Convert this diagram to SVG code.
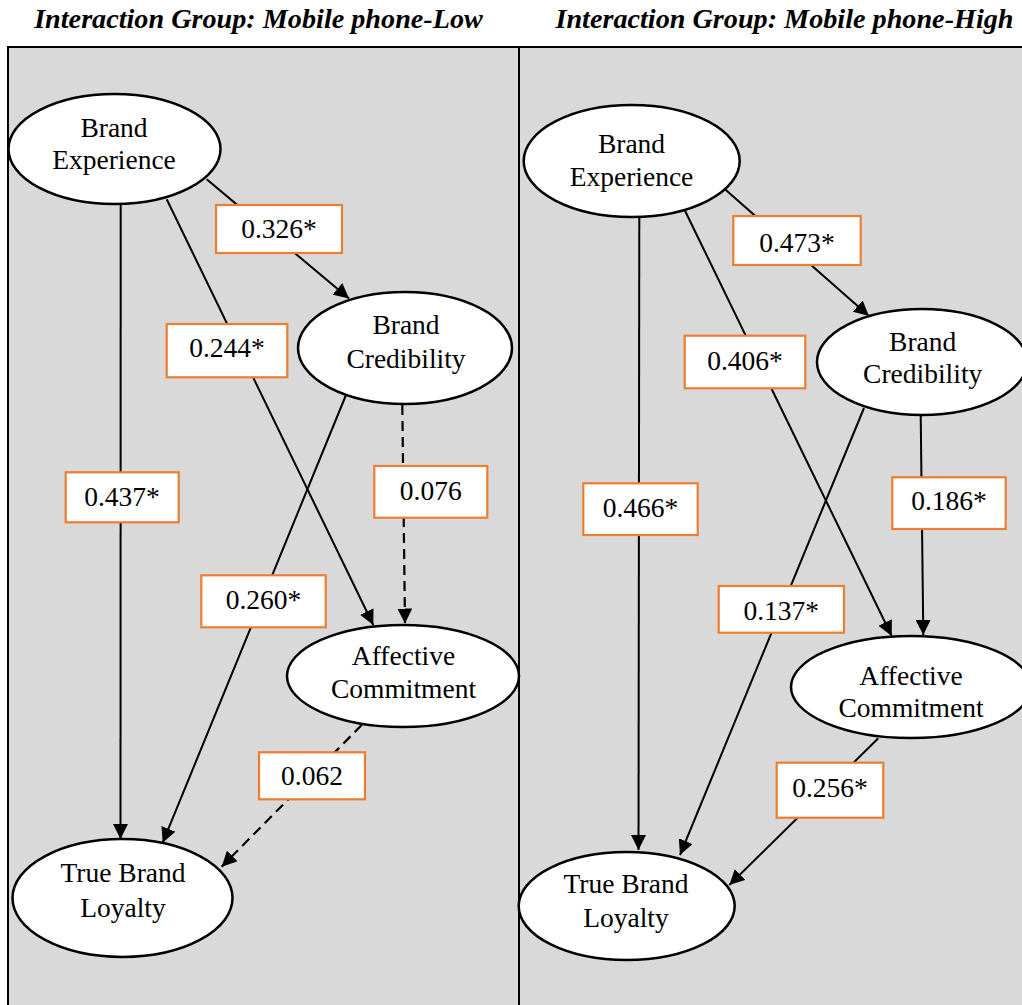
<svg xmlns="http://www.w3.org/2000/svg" width="1022" height="1005" viewBox="0 0 1022 1005">
  <style>
    .title { font-family: "Liberation Serif", "Times New Roman", serif; font-size: 28.2px; font-weight: bold; font-style: italic; fill: #000; text-anchor: middle; }
    .node ellipse { fill: #fff; stroke: #000; stroke-width: 2.5; }
    .node text { font-family: "Liberation Serif", "Times New Roman", serif; font-size: 27.5px; fill: #000; text-anchor: middle; }
    .edge { fill: none; stroke: #000; stroke-width: 2; marker-end: url(#arrow); }
    .dashed { stroke-width: 2.2; stroke-dasharray: 10 6; }
    .label rect { fill: #fff; stroke: #ED7D31; stroke-width: 2.2; }
    .label text { font-family: "Liberation Serif", "Times New Roman", serif; font-size: 27.5px; fill: #000; text-anchor: middle; }
  </style>
  <defs>
    <marker id="arrow" markerUnits="userSpaceOnUse" markerWidth="16" markerHeight="15" refX="15" refY="7.5" orient="auto">
      <path d="M0,0 L15,7.5 L0,15 z" fill="#000"/>
    </marker>
  </defs>

  <rect width="1022" height="1005" fill="#fff"/>

  <!-- group titles -->
  <text class="title" x="258.5" y="28">Interaction Group: Mobile phone-Low</text>
  <text class="title" x="784.5" y="28">Interaction Group: Mobile phone-High</text>

  <!-- panels -->
  <g id="panels">
    <rect x="8" y="47" width="1030" height="980" fill="#d9d9d9" stroke="#000" stroke-width="2"/>
    <line x1="519" y1="47" x2="519" y2="1010" stroke="#000" stroke-width="2"/>
  </g>

  <!-- connectors -->
  <g id="connectors">
    <!-- Low group -->
    <path class="edge" d="M206.7,179.3 L349,298.5"/>
    <path class="edge" d="M166.7,199.3 L373.3,625"/>
    <path class="edge" d="M120.7,204 L120.5,839"/>
    <path class="edge" d="M346,395 L162.7,842.7"/>
    <path class="edge dashed" d="M402.3,405 L405,623.5"/>
    <path class="edge dashed" d="M361.7,725 L221.7,866.7"/>
    <!-- High group -->
    <path class="edge" d="M725,189.3 L869,316"/>
    <path class="edge" d="M685,210.7 L891.7,636"/>
    <path class="edge" d="M639.3,216.7 L638.5,850"/>
    <path class="edge" d="M864,408 L680,855"/>
    <path class="edge" d="M920.7,415 L923.3,635"/>
    <path class="edge" d="M878.3,738.3 L729.3,885"/>

    <!-- path coefficients -->
    <g class="label"><rect x="216" y="205" width="126" height="48"/><text x="279" y="238">0.326*</text></g>
    <g class="label"><rect x="166.7" y="324" width="120.6" height="53.3"/><text x="227" y="357.3">0.244*</text></g>
    <g class="label"><rect x="65.7" y="472.3" width="113" height="50"/><text x="122" y="506">0.437*</text></g>
    <g class="label"><rect x="201.3" y="575.3" width="124.4" height="52"/><text x="263.5" y="609.3">0.260*</text></g>
    <g class="label"><rect x="374.3" y="466" width="113" height="51.7"/><text x="430.8" y="500">0.076</text></g>
    <g class="label"><rect x="259" y="752.3" width="106" height="47"/><text x="312" y="785">0.062</text></g>

    <g class="label"><rect x="733.3" y="216" width="127.4" height="49"/><text x="797" y="251.7">0.473*</text></g>
    <g class="label"><rect x="684.7" y="335.7" width="120.6" height="52.6"/><text x="745" y="370">0.406*</text></g>
    <g class="label"><rect x="583.3" y="483.3" width="114.4" height="51.7"/><text x="640.5" y="517.3">0.466*</text></g>
    <g class="label"><rect x="718.7" y="586" width="125.3" height="46.7"/><text x="781.3" y="620">0.137*</text></g>
    <g class="label"><rect x="892.3" y="477.3" width="113.4" height="51.7"/><text x="949" y="510">0.186*</text></g>
    <g class="label"><rect x="776.7" y="762.7" width="106.6" height="55"/><text x="830" y="796.7">0.256*</text></g>
  </g>

  <!-- Low group nodes -->
  <g id="low-brand-experience" class="node">
    <ellipse cx="114.5" cy="149" rx="106" ry="55"/>
    <text x="114" y="137">Brand</text>
    <text x="114" y="169">Experience</text>
  </g>
  <g id="low-brand-credibility" class="node">
    <ellipse cx="405" cy="348" rx="107" ry="56"/>
    <text x="406" y="334">Brand</text>
    <text x="406" y="368">Credibility</text>
  </g>
  <g id="low-affective-commitment" class="node">
    <ellipse cx="403" cy="676" rx="116" ry="51"/>
    <text x="403.5" y="665">Affective</text>
    <text x="403.5" y="698">Commitment</text>
  </g>
  <g id="low-true-brand-loyalty" class="node">
    <ellipse cx="122.5" cy="898" rx="110" ry="59"/>
    <text x="123" y="882">True Brand</text>
    <text x="123" y="917">Loyalty</text>
  </g>

  <!-- High group nodes -->
  <g id="high-brand-experience" class="node">
    <ellipse cx="631.7" cy="161" rx="108" ry="56"/>
    <text x="631.5" y="153.3">Brand</text>
    <text x="631.5" y="186">Experience</text>
  </g>
  <g id="high-brand-credibility" class="node">
    <ellipse cx="922" cy="362" rx="105" ry="53"/>
    <text x="922.7" y="350.7">Brand</text>
    <text x="922.7" y="383">Credibility</text>
  </g>
  <g id="high-affective-commitment" class="node">
    <ellipse cx="911" cy="687" rx="120" ry="51"/>
    <text x="911" y="685">Affective</text>
    <text x="911" y="717">Commitment</text>
  </g>
  <g id="high-true-brand-loyalty" class="node">
    <ellipse cx="626.7" cy="906" rx="108" ry="54"/>
    <text x="626" y="892.7">True Brand</text>
    <text x="626" y="926.7">Loyalty</text>
  </g>
</svg>
